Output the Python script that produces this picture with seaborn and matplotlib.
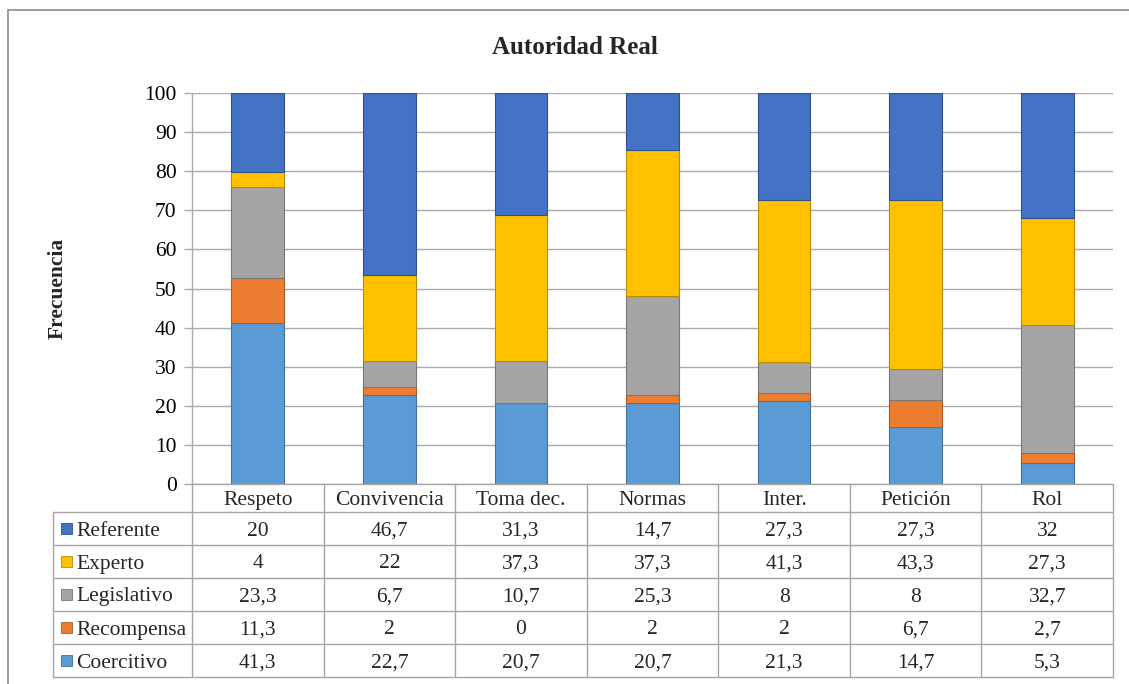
import matplotlib
matplotlib.use("Agg")
import matplotlib.pyplot as plt
import seaborn as sns
import numpy as np
import pandas as pd
from matplotlib.patches import Rectangle

categories = ["Respeto", "Convivencia", "Toma dec.", "Normas", "Inter.", "Petición", "Rol"]
coercitivo = [41.3, 22.7, 20.7, 20.7, 21.3, 14.7, 5.3]
recompensa = [11.3, 2, 0, 2, 2, 6.7, 2.7]
legislativo = [23.3, 6.7, 10.7, 25.3, 8, 8, 32.7]
experto = [4, 22, 37.3, 37.3, 41.3, 43.3, 27.3]
referente = [20, 46.7, 31.3, 14.7, 27.3, 27.3, 32]

series_names = ["Coercitivo", "Recompensa", "Legislativo", "Experto", "Referente"]
series_vals = [coercitivo, recompensa, legislativo, experto, referente]
colors = ["#5B9BD5", "#ED7D31", "#A5A5A5", "#FFC000", "#4472C4"]
edges = ["#41719C", "#AE5A21", "#787878", "#BC8C00", "#2F528F"]

sns.set_theme(style="white")
plt.rcParams["font.family"] = ["Liberation Serif", "DejaVu Serif"]

W, H = 1129, 684
fig = plt.figure(figsize=(W / 100, H / 100), dpi=100)

def fx(px):
    return px / W

def fy(py):
    return 1 - py / H

ax_l, ax_r, ax_t, ax_b = 192, 1113, 93, 484
ax = fig.add_axes([fx(ax_l), fy(ax_b), fx(ax_r) - fx(ax_l), fy(ax_t) - fy(ax_b)])

bottom = np.zeros(len(categories))
for name, vals, c, ec in zip(series_names, series_vals, colors, edges):
    df = pd.DataFrame({"cat": categories, "val": vals})
    sns.barplot(data=df, x="cat", y="val", bottom=bottom, color=c, width=0.4,
                edgecolor=ec, linewidth=0.8, ax=ax, saturation=1, zorder=3,
                order=categories)
    bottom = bottom + np.array(vals)

grid_c = "#ababab"
ax.set_ylim(0, 100)
ax.set_xlim(-0.5, len(categories) - 0.5)
ax.set_yticks(range(0, 101, 10))
ax.yaxis.grid(True, color=grid_c, linewidth=1, zorder=0)
ax.set_axisbelow(True)
for s in ["top", "right", "bottom"]:
    ax.spines[s].set_visible(False)
ax.spines["left"].set_color(grid_c)
ax.spines["left"].set_linewidth(1)
ax.tick_params(axis="y", which="both", left=True, length=6, width=1, color=grid_c,
               labelsize=15.5, pad=5, labelcolor="black")
ax.set_xticks([])
ax.set_xlabel("")
ax.set_ylabel("")

# Table
tab_l, tab_b = 53, 677
unit = (ax_r - ax_l) / len(categories)
ncat = len(categories)
x_left = -0.5 - (ax_l - tab_l) / unit
row_h = 33
hdr_h = (tab_b - 5 * row_h) - ax_b  # header height in px
hdr = hdr_h / row_h
tax = fig.add_axes([fx(tab_l), fy(tab_b), fx(ax_r) - fx(tab_l), fy(ax_b) - fy(tab_b)])
tax.set_xlim(x_left, ncat - 0.5)
tax.set_ylim(0, 5 + hdr)
tax.axis("off")
tc = "#a6a6a6"
lw = 1
for i in range(6):
    tax.plot([x_left, ncat - 0.5], [i, i], color=tc, lw=lw, solid_capstyle="butt", clip_on=False)
tax.plot([-0.5, ncat - 0.5], [5 + hdr, 5 + hdr], color=tc, lw=lw, clip_on=False)
for i in range(ncat + 1):
    tax.plot([-0.5 + i, -0.5 + i], [0, 5 + hdr], color=tc, lw=lw, clip_on=False)
tax.plot([x_left, x_left], [0, 5], color=tc, lw=lw, clip_on=False)

fs = 15.5
for j, cat in enumerate(categories):
    tax.text(j, 5 + hdr / 2, cat, ha="center", va="center_baseline", fontsize=fs)

def fmt(v):
    s = ("%g" % v).replace(".", ",")
    return s

for k, (name, vals, c, ec) in enumerate(zip(series_names, series_vals, colors, edges)):
    yc = k + 0.5
    key_w = 11 / unit
    key_h = 11 / row_h
    kx = x_left + 8 / unit
    tax.add_patch(Rectangle((kx, yc - key_h / 2), key_w, key_h, facecolor=c,
                            edgecolor=ec, lw=0.6, clip_on=False))
    tax.text(kx + key_w + 4 / unit, yc, name, ha="left", va="center_baseline", fontsize=fs)
    for j, v in enumerate(vals):
        tax.text(j, yc, fmt(v), ha="center", va="center_baseline", fontsize=fs)

fig.text(fx(575), fy(47), "Autoridad Real", ha="center", va="center",
         fontsize=18, fontweight="bold")
fig.text(fx(58), fy(288), "Frecuencia", ha="center", va="center", rotation=90,
         fontsize=15.5, fontweight="bold")

# outer border
fig.patches.append(Rectangle((fx(8), -0.05), 1.2, fy(10) + 0.05, transform=fig.transFigure,
                             fill=False, edgecolor="#8c8c8c", lw=1.2, figure=fig))

fig.savefig("out.png", dpi=100, facecolor="white")
